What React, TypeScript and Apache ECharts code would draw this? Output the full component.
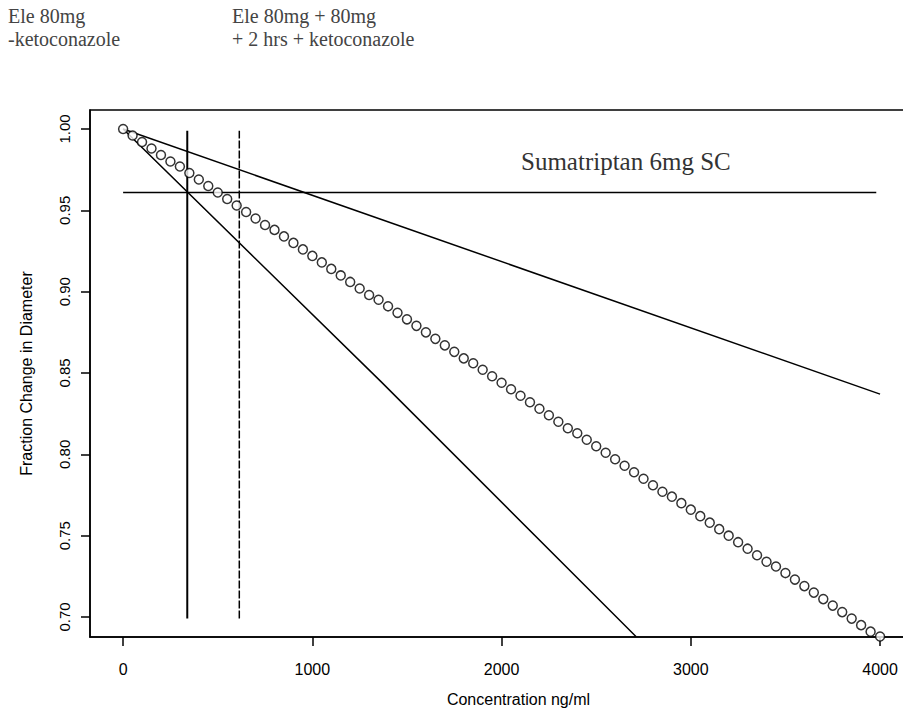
import React, { useEffect, useRef } from "react";
import * as echarts from "echarts";

// Concentration (ng/ml) of the circle series
const circleConc = [
  0, 50, 100, 150, 200, 250, 300, 350, 400, 450, 500, 550, 600, 650, 700, 750, 800, 850, 900, 950,
  1000, 1050, 1100, 1150, 1200, 1250, 1300, 1350, 1400, 1450, 1500, 1550, 1600, 1650, 1700, 1750,
  1800, 1850, 1900, 1950, 2000, 2050, 2100, 2150, 2200, 2250, 2300, 2350, 2400, 2450, 2500, 2550,
  2600, 2650, 2700, 2750, 2800, 2850, 2900, 2950, 3000, 3050, 3100, 3150, 3200, 3250, 3300, 3350,
  3400, 3450, 3500, 3550, 3600, 3650, 3700, 3750, 3800, 3850, 3900, 3950, 4000,
];
// Fraction change in diameter (circles)
const circleFrac = [
  1.0, 0.996, 0.992, 0.988, 0.984, 0.98, 0.977, 0.973, 0.969, 0.965, 0.961, 0.957, 0.953, 0.949,
  0.945, 0.941, 0.938, 0.934, 0.93, 0.926, 0.922, 0.918, 0.914, 0.91, 0.906, 0.902, 0.898, 0.895,
  0.891, 0.887, 0.883, 0.879, 0.875, 0.871, 0.867, 0.863, 0.859, 0.856, 0.852, 0.848, 0.844, 0.84,
  0.836, 0.832, 0.828, 0.824, 0.82, 0.816, 0.813, 0.809, 0.805, 0.801, 0.797, 0.793, 0.789, 0.785,
  0.781, 0.777, 0.774, 0.77, 0.766, 0.762, 0.758, 0.754, 0.75, 0.746, 0.742, 0.738, 0.734, 0.731,
  0.727, 0.723, 0.719, 0.715, 0.711, 0.707, 0.703, 0.699, 0.695, 0.691, 0.688,
];
// Upper (shallow) line
const upperConc = [0, 4000];
const upperFrac = [1.0, 0.837];
// Lower (steep) line
const lowerConc = [0, 1360, 2710];
const lowerFrac = [1.0, 0.845, 0.688];
// Sumatriptan 6mg SC reference level
const sumaConc = [0, 3980];
const sumaFrac = [0.961, 0.961];
// Vertical markers
const solidVConc = [339, 339];
const solidVFrac = [0.699, 0.999];
const dashVConc = [614, 614];
const dashVFrac = [0.699, 0.999];

const xTicks = [0, 1000, 2000, 3000, 4000];
const yTicks = [0.7, 0.75, 0.8, 0.85, 0.9, 0.95, 1.0];

const legendLeft = ["Ele 80mg", "-ketoconazole"];
const legendRight = ["Ele 80mg + 80mg", "+ 2 hrs + ketoconazole"];
const refLabel = "Sumatriptan 6mg SC";

const zip = (xs: number[], ys: number[]) => xs.map((x, i) => [x, ys[i]]);

export default function App() {
  const ref = useRef<HTMLDivElement>(null);
  useEffect(() => {
    if (!ref.current) return;
    const chart = echarts.init(ref.current, undefined, { renderer: "svg" });
    const black = "#000";
    const serif = "'Liberation Serif', 'DejaVu Serif', serif";
    const sans = "'Liberation Sans', Arial, sans-serif";
    const lineSeries = (data: number[][], type: any = "solid", width = 1.5) => ({
      type: "line",
      data,
      symbol: "none",
      silent: true,
      lineStyle: { color: black, width, type },
      z: 3,
    });
    chart.setOption({
      animation: false,
      backgroundColor: "#fff",
      grid: {
        left: 90,
        top: 110,
        right: -6,
        bottom: 82,
        show: true,
        borderColor: black,
        borderWidth: 1.5,
        containLabel: false,
        outerBoundsMode: "none",
      },
      xAxis: {
        type: "value",
        min: -175,
        max: 4153,
        name: "Concentration ng/ml",
        nameLocation: "middle",
        nameGap: 54,
        nameTextStyle: { fontFamily: sans, fontSize: 16, color: "#000", padding: [0, 0, 0, 38] },
        axisLine: { show: true, onZero: false, lineStyle: { color: black, width: 1.5 } },
        axisTick: { show: true, length: 9, lineStyle: { color: black, width: 1.5 }, customValues: xTicks },
        axisLabel: {
          customValues: xTicks,
          margin: 24,
          fontFamily: sans,
          fontSize: 16,
          color: "#000",
          formatter: (v: number) => String(v),
        },
        splitLine: { show: false },
      },
      yAxis: {
        type: "value",
        min: 0.6877,
        max: 1.0117,
        name: "Fraction Change in Diameter",
        nameLocation: "middle",
        nameGap: 56,
        nameTextStyle: { fontFamily: sans, fontSize: 16, color: "#000" },
        axisLine: { show: true, onZero: false, lineStyle: { color: black, width: 1.5 } },
        axisTick: { show: true, length: 9, lineStyle: { color: black, width: 1.5 }, customValues: yTicks },
        axisLabel: {
          customValues: yTicks,
          rotate: 90,
          margin: 18,
          fontFamily: sans,
          fontSize: 15,
          color: "#000",
          formatter: (v: number) => v.toFixed(2),
        },
        splitLine: { show: false },
      },
      series: [
        lineSeries(zip(upperConc, upperFrac)),
        lineSeries(zip(lowerConc, lowerFrac)),
        lineSeries(zip(sumaConc, sumaFrac)),
        lineSeries(zip(solidVConc, solidVFrac), "solid", 2),
        lineSeries(zip(dashVConc, dashVFrac), [8, 2], 1.5),
        {
          type: "scatter",
          data: zip(circleConc, circleFrac),
          symbol: "circle",
          symbolSize: 9,
          silent: true,
          itemStyle: { color: "#fff", borderColor: black, borderWidth: 1.5 },
          z: 4,
        },
      ],
      graphic: [
        {
          type: "text",
          left: 8,
          top: 4,
          style: { text: legendLeft.join("\n"), font: `20px ${serif}`, fill: "#444", lineHeight: 23 },
        },
        {
          type: "text",
          left: 232,
          top: 4,
          style: { text: legendRight.join("\n"), font: `20px ${serif}`, fill: "#444", lineHeight: 23 },
        },
        {
          type: "text",
          left: 521,
          top: 149,
          style: { text: refLabel, font: `25px ${serif}`, fill: "#333" },
        },
      ],
    });
    return () => chart.dispose();
  }, []);
  return <div ref={ref} style={{ width: 903, height: 719, position: "absolute", left: 0, top: 0 }} />;
}
